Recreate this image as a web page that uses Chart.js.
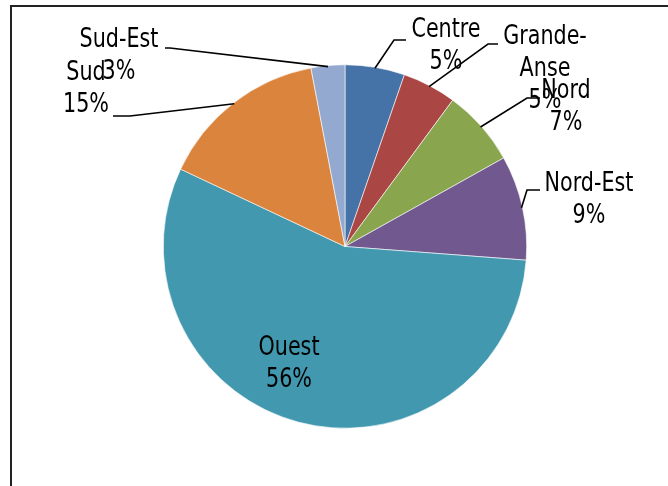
<!DOCTYPE html>
<html>
<head>
<meta charset="utf-8">
<script src="https://cdn.jsdelivr.net/npm/chart.js@4/dist/chart.umd.min.js"></script>
<style>
html,body{margin:0;padding:0;background:#fff;}
#wrap{width:668px;height:486px;position:relative;overflow:hidden;}
</style>
</head>
<body>
<div id="wrap"><canvas id="c" width="668" height="486"></canvas></div>
<script>
const categories = ['Centre', 'Grande-Anse', 'Nord', 'Nord-Est', 'Ouest', 'Sud', 'Sud-Est'];
const values = [5.3, 4.8, 6.8, 9.3, 55.8, 15.0, 3.0];
const labelLines = [['Centre'], ['Grande-', 'Anse'], ['Nord'], ['Nord-Est'], ['Ouest'], ['Sud'], ['Sud-Est']];
const colors = ['#4572A7', '#AA4643', '#89A54E', '#71588F', '#4198AF', '#DB843D', '#93A9CF'];

// label layout: text centre of first line, leader elbow (x,y) and horizontal end x
const labelLayout = [
  {x: 446, y: 30, elbow: [394, 40], hx: 406},
  {x: 545, y: 37, elbow: [488, 44], hx: 498},
  {x: 566, y: 91, elbow: [527, 98], hx: 540},
  {x: 589, y: 184, elbow: [527, 190], hx: 540},
  {x: 289, y: 348, elbow: null},
  {x: 86, y: 73, elbow: [130, 116], hx: 113},
  {x: 119, y: 40, elbow: [170, 48], hx: 165}
];
const FONT = '23px "Liberation Sans Narrow", "DejaVu Sans Condensed", sans-serif';
const LINE_H = 32;
const STRETCH_Y = 1.14;

const framePlugin = {
  id: 'frame',
  beforeDraw(chart) {
    const ctx = chart.ctx;
    ctx.save();
    ctx.strokeStyle = '#222';
    ctx.lineWidth = 2;
    ctx.strokeRect(11, 6, 1000, 1000);
    ctx.restore();
  }
};

const labelPlugin = {
  id: 'pieLabels',
  afterDraw(chart) {
    const ctx = chart.ctx;
    const meta = chart.getDatasetMeta(0);
    const total = values.reduce((a, b) => a + b, 0);
    ctx.save();
    meta.data.forEach((arc, i) => {
      const L = labelLayout[i];
      const mid = (arc.startAngle + arc.endAngle) / 2;
      const r = arc.outerRadius - 1;
      if (L.elbow) {
        const ax = arc.x + Math.cos(mid) * r;
        const ay = arc.y + Math.sin(mid) * r;
        ctx.strokeStyle = '#000';
        ctx.lineWidth = 1.6;
        ctx.beginPath();
        ctx.moveTo(L.hx, L.elbow[1]);
        ctx.lineTo(L.elbow[0], L.elbow[1]);
        ctx.lineTo(ax, ay);
        ctx.stroke();
      }
      const pct = Math.round(values[i] / total * 100) + '%';
      const lines = labelLines[i].concat([pct]);
      lines.forEach((t, k) => {
        ctx.save();
        ctx.translate(L.x, L.y + k * LINE_H);
        ctx.scale(1, STRETCH_Y);
        ctx.font = FONT;
        ctx.fillStyle = '#000';
        ctx.textAlign = 'center';
        ctx.textBaseline = 'middle';
        ctx.fillText(t, 0, 0);
        ctx.restore();
      });
    });
    ctx.restore();
  }
};

new Chart(document.getElementById('c'), {
  type: 'pie',
  data: {
    labels: categories,
    datasets: [{
      data: values,
      backgroundColor: colors,
      borderColor: '#ffffff',
      borderWidth: 0.6
    }]
  },
  options: {
    responsive: false,
    animation: false,
    layout: {padding: {left: 163, right: 141, top: 64.5, bottom: 57.5}},
    plugins: {
      legend: {display: false},
      tooltip: {enabled: false}
    }
  },
  plugins: [framePlugin, labelPlugin]
});
</script>
</body>
</html>
